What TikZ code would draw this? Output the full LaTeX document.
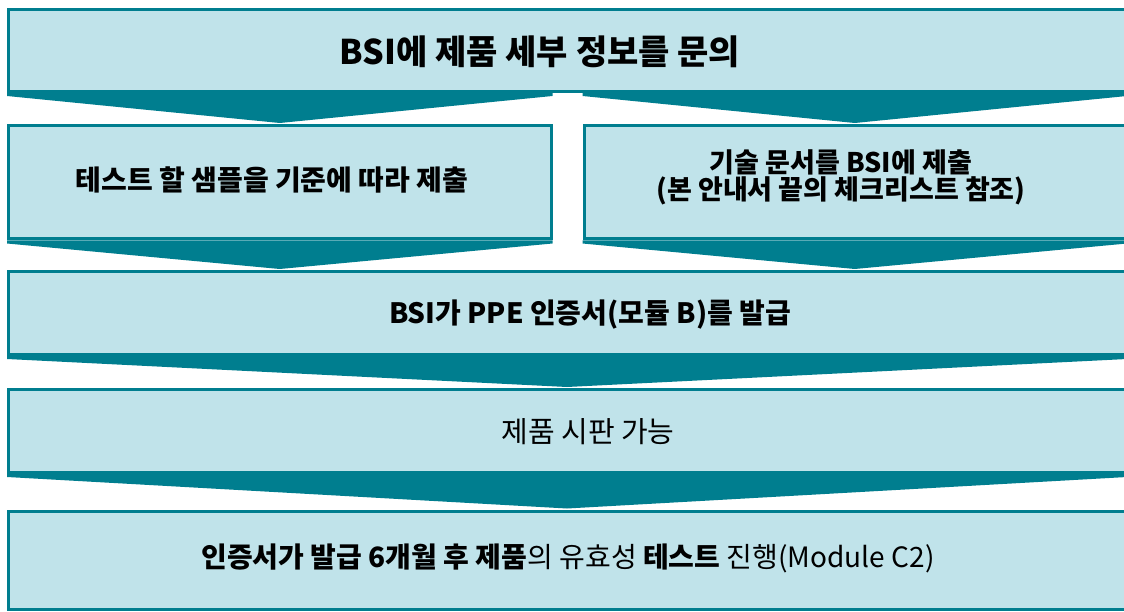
\documentclass[tikz,border=0pt]{standalone}
\usepackage{fontspec}
\setmainfont{Noto Sans CJK KR}
\usetikzlibrary{calc}
\definecolor{tealdk}{RGB}{0,126,143}
\definecolor{tealbg}{RGB}{192,227,234}
\tikzset{blk/.style={draw=tealdk,fill=tealbg,line width=3pt,outer sep=1.5pt,inner sep=0pt},
  arr/.style={fill=tealdk},
  lbl/.style={inner sep=0pt,align=center,font=\fontsize{28}{28}\selectfont\bfseries},
  big/.style={lbl,font=\fontsize{34}{40}\selectfont\bfseries}}
\newcommand{\chev}[3]{\fill[arr] (#1.south -| #2.west) -- (#1.south -| #2.east)
  -- ($(#1.south -| #2.east)+(0,3)$) -- ($(#2 |- #3.north)+(0,-1)$)
  -- ($(#1.south -| #2.west)+(0,3)$) -- cycle;}
\begin{document}
\begin{tikzpicture}[x=1pt,y=-1pt]
    \clip (0,0) rectangle (1124,612);
    \fill[white] (0,0) rectangle (1124,612);
    \node[blk,minimum width=1117,minimum height=82] (q) at (567,50.5) {};
    \node[blk,minimum width=542.5,minimum height=113.5] (sa) at (279.75,182.25) {};
    \node[blk,minimum width=541.5,minimum height=113.5] (td) at (854.75,182.25) {};
    \node[blk,minimum width=1117,minimum height=83] (ce) at (567,313) {};
    \node[blk,minimum width=1117,minimum height=83] (mk) at (567,431) {};
    \node[blk,minimum width=1117,minimum height=98.5] (vt) at (567,560.25) {};
    \chev{q}{sa}{sa}
    \chev{q}{td}{td}
    \chev{sa}{sa}{ce}
    \chev{td}{td}{ce}
    \chev{ce}{ce}{mk}
    \chev{mk}{mk}{vt}
    \node[big] (qt) at (540,52) {BSI에 제품 세부 정보를 문의};
    \node[lbl] (sat) at (272,180) {테스트 할 샘플을 기준에 따라 제출};
    \node[lbl,font=\fontsize{27}{27}\selectfont\bfseries] (tdt) at (841,177) {기술 문서를 BSI에 제출\\(본 안내서 끝의 체크리스트 참조)};
    \node[lbl] (cet) at (590,315) {BSI가 PPE 인증서(모듈 B)를 발급};
    \node[lbl,font=\fontsize{29}{29}\selectfont] (mkt) at (588,432) {제품 시판 가능};
    \node[lbl] (vtt) at (568,558) {인증서가 발급 6개월 후 제품{\mdseries 의 유효성} 테스트 {\mdseries 진행(Module C2)}};
\end{tikzpicture}
\end{document}
